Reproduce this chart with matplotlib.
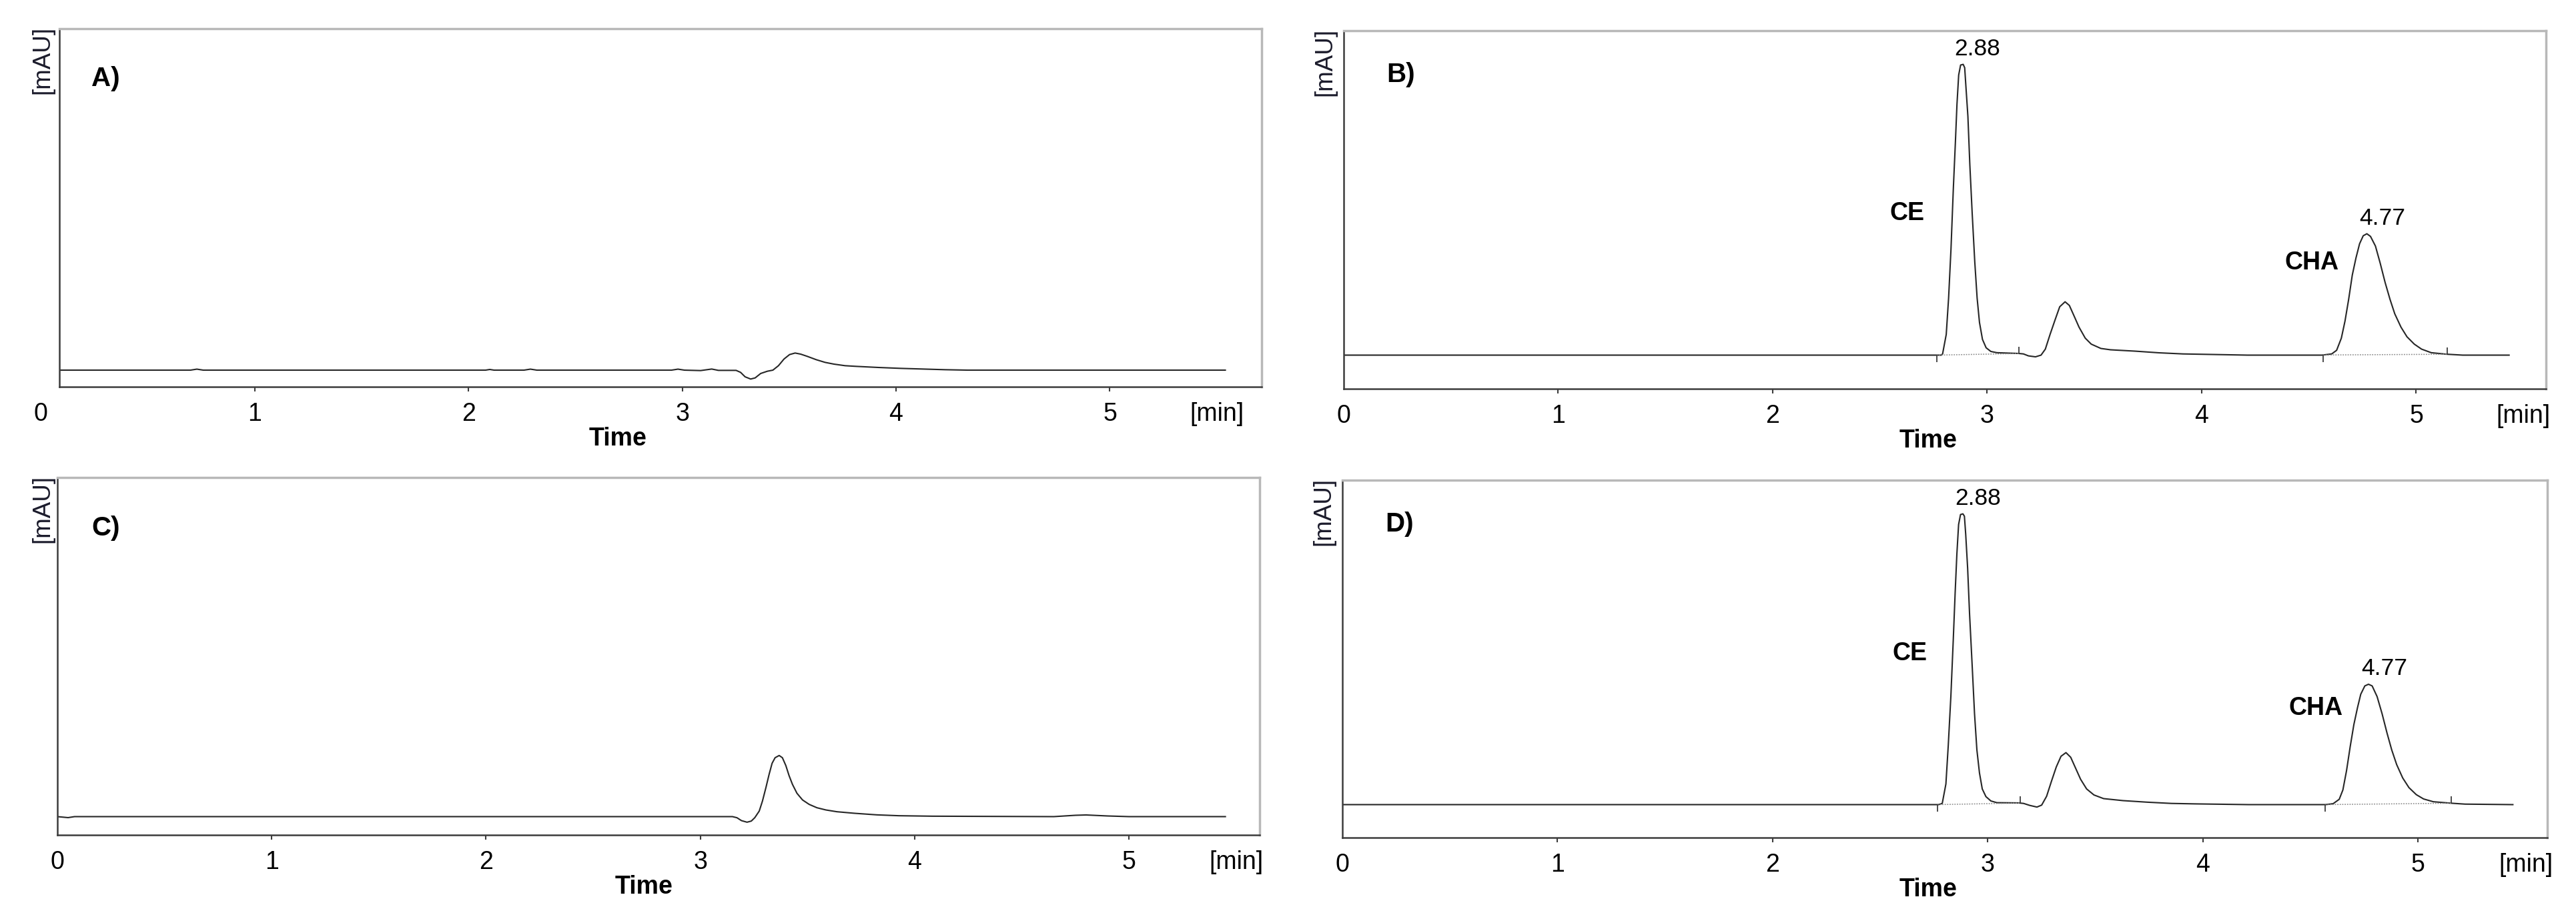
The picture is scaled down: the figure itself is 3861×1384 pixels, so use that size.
import numpy as np
import matplotlib
matplotlib.use('Agg')
from matplotlib import pyplot as plt
from matplotlib import transforms

plt.rcParams['font.family'] = ['Liberation Sans', 'DejaVu Sans']

# ---- chromatogram traces (time in min, signal in mAU) ----

# A) blank
time_a = [0.087, 0.70, 0.73, 0.76, 2.08, 2.10, 2.12, 2.26, 2.29, 2.32, 2.95, 2.98, 3.01,
          3.086, 3.138, 3.169, 3.252, 3.273, 3.294, 3.320, 3.341, 3.367, 3.398, 3.424,
          3.450, 3.476, 3.502, 3.528, 3.554, 3.585, 3.627, 3.668, 3.710, 3.762, 3.814,
          3.918, 4.022, 4.126, 4.230, 4.334, 5.54]
signal_a = [0.0, 0.0, 0.3, 0.0, 0.0, 0.2, 0.0, 0.0, 0.3, 0.0, 0.0, 0.3, 0.0,
            -0.13, 0.33, -0.07, -0.07, -0.67, -2.0, -2.67, -2.33, -1.0, -0.33, 0.0,
            1.33, 3.33, 4.67, 5.13, 4.8, 4.13, 3.13, 2.33, 1.8, 1.33, 1.13,
            0.8, 0.53, 0.33, 0.13, 0.0, 0.0]

# B) standard
time_b = [0.0, 2.786, 2.792, 2.809, 2.820, 2.831, 2.842, 2.852, 2.859, 2.867, 2.876, 2.888,
          2.895, 2.901, 2.910, 2.919, 2.930, 2.942, 2.953, 2.964, 2.978, 2.995, 3.017,
          3.045, 3.147, 3.169, 3.192, 3.225, 3.251, 3.271, 3.293, 3.316, 3.338, 3.363,
          3.383, 3.406, 3.428, 3.457, 3.485, 3.530, 3.575, 3.688, 3.800, 3.913, 4.214,
          4.561, 4.606, 4.629, 4.651, 4.668, 4.685, 4.702, 4.719, 4.736, 4.753, 4.770,
          4.787, 4.810, 4.832, 4.855, 4.878, 4.900, 4.929, 4.957, 4.991, 5.025, 5.070,
          5.138, 5.217, 5.433]
signal_b = [0.0, 0.0, 0.36, 6.2, 17.1, 31.6, 49.8, 64.3, 75.2, 84.0, 87.0, 87.2,
            86.2, 80.3, 71.6, 57.1, 42.5, 28.0, 17.1, 9.8, 4.7, 2.2, 1.1,
            0.73, 0.5, 0.36, -0.22, -0.51, 0.0, 1.8, 6.2, 10.5, 14.5, 16.0,
            14.9, 11.6, 8.4, 5.1, 3.3, 2.0, 1.6, 1.2, 0.7, 0.36, 0.0,
            0.0, 0.36, 1.45, 5.09, 10.2, 16.7, 24.0, 29.1, 33.4, 35.8, 36.4,
            35.6, 32.7, 27.6, 21.8, 16.7, 12.4, 8.4, 5.5, 3.3, 1.8, 0.73,
            0.29, 0.0, 0.0]

# C) matrix
time_c = [0.0, 0.05, 0.08, 2.839, 3.150, 3.171, 3.192, 3.218, 3.238, 3.254, 3.275, 3.290,
          3.306, 3.321, 3.335, 3.349, 3.368, 3.383, 3.399, 3.414, 3.430, 3.451, 3.477,
          3.508, 3.544, 3.586, 3.637, 3.720, 3.824, 3.927, 4.083, 4.65, 4.75, 4.80,
          4.90, 5.00, 5.45]
signal_c = [0.0, -0.3, 0.0, 0.0, 0.0, -0.33, -1.2, -1.67, -1.33, -0.33, 1.67, 4.67,
            8.67, 12.67, 16.0, 17.67, 18.33, 17.67, 15.33, 12.33, 9.67, 7.0, 5.0,
            3.67, 2.67, 2.0, 1.47, 1.0, 0.53, 0.27, 0.13, 0.0, 0.4, 0.5,
            0.2, 0.0, 0.0]

# D) spiked matrix
time_d = [0.0, 2.771, 2.788, 2.805, 2.816, 2.828, 2.839, 2.848, 2.856, 2.864, 2.873, 2.884,
          2.891, 2.897, 2.906, 2.915, 2.927, 2.938, 2.949, 2.961, 2.974, 2.991, 3.014,
          3.042, 3.143, 3.166, 3.194, 3.228, 3.250, 3.273, 3.295, 3.318, 3.340, 3.363,
          3.385, 3.408, 3.431, 3.459, 3.493, 3.538, 3.628, 3.741, 3.853, 3.966, 4.212,
          4.570, 4.605, 4.633, 4.650, 4.667, 4.684, 4.701, 4.718, 4.733, 4.752, 4.769,
          4.786, 4.809, 4.832, 4.855, 4.877, 4.900, 4.928, 4.957, 4.991, 5.025, 5.070,
          5.150, 5.218, 5.440]
signal_d = [0.0, 0.0, 0.36, 6.2, 17.8, 32.4, 49.1, 63.6, 75.2, 84.0, 87.0, 87.2,
            86.5, 81.1, 70.9, 57.1, 41.8, 27.3, 16.4, 9.5, 4.7, 2.4, 1.1,
            0.58, 0.51, 0.36, -0.22, -0.73, -0.15, 2.5, 6.9, 11.3, 14.5, 15.6,
            14.2, 10.9, 7.6, 4.7, 2.9, 1.8, 1.2, 0.73, 0.36, 0.22, 0.0,
            0.0, 0.29, 1.6, 4.4, 10.2, 17.4, 24.0, 29.1, 33.1, 35.6, 36.1,
            35.6, 32.4, 27.3, 21.5, 16.4, 12.0, 8.0, 5.1, 3.0, 1.7, 0.87,
            0.44, 0.15, 0.0]

# integration limits (start, end) and peak labels
integ_b = [(2.764, 3.149), (4.566, 5.144)]
integ_d = [(2.765, 3.149), (4.567, 5.153)]
peak_rt = [2.88, 4.77]
peak_names = ['CE', 'CHA']

tick_vals = [0, 1, 2, 3, 4, 5]

LINE = '#262626'
DARK = '#3c3c3c'
LIGHT = '#b8b8b8'


def draw_panel(fig, rect, t, s, xlim, ylim, letter, letter_xy, mau_x, time_x):
    ax = fig.add_axes(rect)
    ax.plot(t, s, color=LINE, lw=1.5, solid_joinstyle='round')
    ax.set_xlim(*xlim)
    ax.set_ylim(*ylim)
    ax.set_yticks([])
    ticks = [v for v in tick_vals if v >= xlim[0]] + [5.5]
    ax.set_xticks(ticks)
    ax.set_xticklabels([str(v) for v in ticks[:-1]] + ['[min]'])
    ax.tick_params(axis='x', direction='out', length=5, width=1.5, color=DARK,
                   pad=11.5, labelsize=27)
    ax.xaxis.get_major_ticks()[-1].tick1line.set_visible(False)
    if ticks[0] == 0:
        ax.xaxis.get_major_ticks()[0].tick1line.set_visible(False)
    else:
        # the zero label sits outside the plotted range
        tr = transforms.blended_transform_factory(ax.transData, ax.transAxes)
        ax.text(0, -23 / 537, '0', transform=tr, ha='center', va='top',
                fontsize=27, clip_on=False)
    for side in ['top', 'right']:
        ax.spines[side].set_color(LIGHT)
        ax.spines[side].set_linewidth(2.5)
    for side in ['left', 'bottom']:
        ax.spines[side].set_color(DARK)
        ax.spines[side].set_linewidth(1.8)
    ax.text(letter_xy[0], letter_xy[1], letter, transform=ax.transAxes,
            fontsize=29, fontweight='bold', ha='left', va='baseline')
    ax.text(mau_x, 1.007, '[mAU]', transform=ax.transAxes, rotation=90,
            fontsize=26.5, ha='center', va='top', color='#1b1b2b')
    ax.text(time_x, -88 / 537, 'Time', transform=ax.transAxes,
            fontsize=27, fontweight='bold', ha='center', va='baseline')
    return ax


def mark_peaks(ax, t, s, integ, name_xy):
    for (a, b) in integ:
        ya, yb = np.interp(a, t, s), np.interp(b, t, s)
        ax.plot([a, b], [ya, yb], color='#8a8a8a', lw=1.1, ls=(0, (1.2, 1.2)))
        ax.vlines(a, ya - 2.1, ya, color=DARK, lw=1.3)
        ax.vlines(b, yb, yb + 2.1, color=DARK, lw=1.3)
    for rt, name, (nx, ny) in zip(peak_rt, peak_names, name_xy):
        h = np.interp(rt, t, s)
        ax.annotate(f'{rt:.2f}', xy=(rt, h), xytext=(17, 10), textcoords='offset points',
                    ha='center', va='baseline', fontsize=25.5)
        ax.text(nx, ny, name, ha='center', va='baseline', fontsize=27, fontweight='bold')


fig = plt.figure(figsize=(38.62, 13.84), dpi=100)

draw_panel(fig, [0.02305, 0.58092, 0.46660, 0.38801], time_a, signal_a,
           (0.087, 5.71), (-5.0, 102.4), 'A)', (0.0266, 0.839), -0.0139, 0.4645)

ax_b = draw_panel(fig, [0.52149, 0.57876, 0.46660, 0.38800], time_b, signal_b,
                  (0.0, 5.605), (-10.1, 97.3), 'B)', (0.0358, 0.857), -0.0155, 0.486)
mark_peaks(ax_b, time_b, signal_b, integ_b, [(2.628, 40.5), (4.514, 25.6)])

draw_panel(fig, [0.02227, 0.09538, 0.46660, 0.38728], time_c, signal_c,
           (0.0, 5.61), (-5.5, 101.7), 'C)', (0.0283, 0.837), -0.0122, 0.488)

ax_d = draw_panel(fig, [0.52097, 0.09249, 0.46763, 0.38728], time_d, signal_d,
                  (0.0, 5.60), (-9.9, 97.3), 'D)', (0.0358, 0.857), -0.0155, 0.486)
mark_peaks(ax_d, time_d, signal_d, integ_d, [(2.636, 43.3), (4.524, 26.9)])

fig.savefig('out.png', dpi=100, facecolor='white')
